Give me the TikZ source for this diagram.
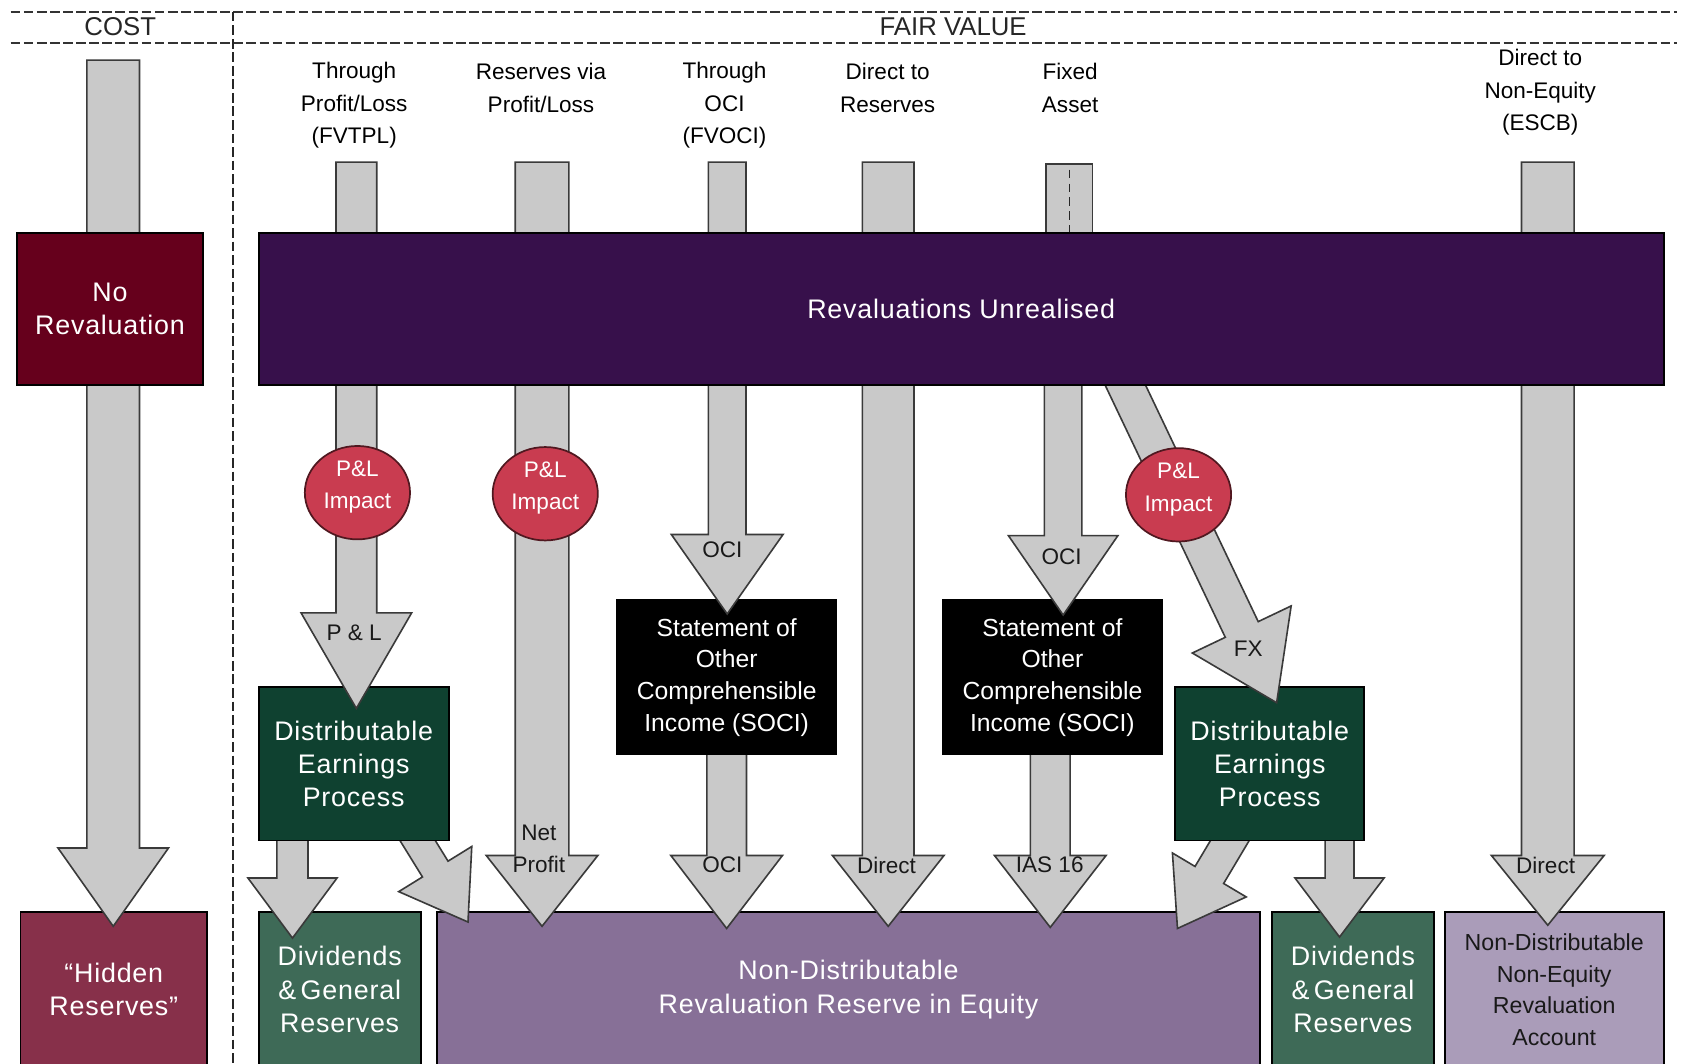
\documentclass[tikz,border=0pt]{standalone}
\usepackage{fontspec}
\setmainfont{Liberation Sans}
\newfontfamily\bxfont[LetterSpace=3]{Liberation Sans}
\usetikzlibrary{calc,shapes.geometric}
\pgfdeclarelayer{back}
\pgfdeclarelayer{arra}
\pgfdeclarelayer{arrb}
\pgfdeclarelayer{upper}
\pgfdeclarelayer{circl}
\pgfsetlayers{back,arra,main,arrb,upper,circl}
\definecolor{norevc}{HTML}{66001C}
\definecolor{hiddenc}{HTML}{87304A}
\definecolor{revuc}{HTML}{37104B}
\definecolor{depc}{HTML}{0F4130}
\definecolor{divc}{HTML}{3E6A57}
\definecolor{purpc}{HTML}{877097}
\definecolor{ndnec}{HTML}{AA9CB9}
\definecolor{circc}{HTML}{C93C50}
\definecolor{arrgray}{HTML}{C9C9C9}
\definecolor{arrline}{HTML}{3A3A3A}
\tikzset{
 blk/.style={fill=arrgray, draw=arrline, line width=0.75pt, line join=miter, miter limit=10},
 bx/.style={draw=black, line width=0.8pt, inner sep=0pt, outer sep=0pt, align=center, anchor=north west, text=white},
 bigtxt/.style={font=\bxfont\fontsize{12.5}{15.5}\selectfont},
 socitxt/.style={font=\fontsize{11.5}{14.8}\selectfont},
 ndtxt/.style={font=\fontsize{10.8}{14.7}\selectfont},
 toplbl/.style={align=center, font=\fontsize{10.5}{15}\selectfont, text=black, inner sep=0pt},
 arrlbl/.style={align=center, font=\fontsize{10.5}{15}\selectfont, text=black!90, inner sep=0pt},
 hdrtxt/.style={font=\fontsize{12}{14}\selectfont, text=black!85, inner sep=0pt},
 hdash/.style={draw=black!80, line width=0.75pt, dash pattern=on 4.5pt off 1.6pt},
 vdash/.style={draw=black!85, line width=0.75pt, dash pattern=on 4.5pt off 1.8pt},
 circn/.style={ellipse, draw=black!60!circc, line width=0.8pt, fill=circc, minimum width=49pt, minimum height=43.5pt, inner sep=0pt},
 circtxt/.style={align=center, text=white, font=\fontsize{10.5}{15}\selectfont, inner sep=0pt},
}
% #1 style, #2 start, #3 tip, #4 shaft half width, #5 head half width, #6 head length
\newcommand\blockarrow[6][]{%
  \draw[blk,#1] let \p1=(#2), \p2=(#3), \n1={atan2((\y2)-(\y1),(\x2)-(\x1))}, \p3=($(\p2)+(\n1+180:#6)$) in
  ($(\p1)+(\n1+90:#4)$) -- ($(\p3)+(\n1+90:#4)$) -- ($(\p3)+(\n1+90:#5)$) -- (\p2) --
  ($(\p3)+(\n1-90:#5)$) -- ($(\p3)+(\n1-90:#4)$) -- ($(\p1)+(\n1-90:#4)$) -- cycle;}
\begin{document}
\begin{tikzpicture}[x=0.5pt,y=0.5pt]
\useasboundingbox (0,0) rectangle (1568,-991);
\clip (0,0) rectangle (1568,-991);

% bottom boxes
\begin{pgfonlayer}{back}
\fill[white] (0,0) rectangle (1568,-991);
\node[bx,bigtxt,fill=hiddenc,minimum width=87pt,minimum height=72pt] (hidden) at (19,-850) {“Hidden\\Reserves”};
\node[bx,bigtxt,fill=divc,minimum width=75.5pt,minimum height=72pt] (divA) at (241,-850) {Dividends\\\&\,General\\Reserves};
\node[bx,bigtxt,fill=purpc,minimum width=383.5pt,minimum height=72pt] (purple) at (407,-850) {Non-Distributable\\Revaluation Reserve in Equity};
\node[bx,bigtxt,fill=divc,minimum width=75.5pt,minimum height=72pt] (divB) at (1185,-850) {Dividends\\\&\,General\\Reserves};
\node[bx,ndtxt,fill=ndnec,minimum width=102pt,minimum height=72pt,text=black!90] (ndne) at (1346,-850) {Non-Distributable\\Non-Equity\\Revaluation\\Account};
\end{pgfonlayer}

% header
\draw[hdash] (10,-11) -- (1562,-11);
\draw[hdash] (10,-40) -- (1562,-40);
\draw[vdash] (217,-11) -- (217,-995);
\node[hdrtxt] (hcost) at (112,-25) {COST};
\node[hdrtxt] (hfv) at (888,-25) {FAIR VALUE};

% column labels
\node[toplbl] (l1) at (330,-98) {Through\\Profit/Loss\\(FVTPL)};
\node[toplbl] (l2) at (504,-82) {Reserves via\\Profit/Loss};
\node[toplbl] (l3) at (675,-98) {Through\\OCI\\(FVOCI)};
\node[toplbl] (l4) at (827,-82) {Direct to\\Reserves};
\node[toplbl] (l5) at (997,-82) {Fixed\\Asset};
\node[toplbl] (l6) at (1435,-86) {Direct to\\Non-Equity\\(ESCB)};

% middle boxes
\node[bx,socitxt,fill=black,minimum width=102pt,minimum height=72pt] (soci1) at (575,-559) {Statement of\\Other\\Comprehensible\\Income (SOCI)};
\node[bx,socitxt,fill=black,minimum width=102.5pt,minimum height=72pt] (soci2) at (878,-559) {Statement of\\Other\\Comprehensible\\Income (SOCI)};
\node[bx,bigtxt,fill=depc,minimum width=88.5pt,minimum height=71.5pt] (dep1) at (241,-640) {Distributable\\Earnings\\Process};
\node[bx,bigtxt,fill=depc,minimum width=88pt,minimum height=71.5pt] (dep2) at (1095,-640) {Distributable\\Earnings\\Process};

% upper boxes
\begin{pgfonlayer}{upper}
\node[bx,bigtxt,fill=revuc,minimum width=654.5pt,minimum height=71pt] (revu) at (241,-217) {Revaluations Unrealised};
\node[bx,bigtxt,fill=norevc,minimum width=86.5pt,minimum height=71pt] (norev) at (16,-217) {No\\Revaluation};
\end{pgfonlayer}

% start coordinates
\coordinate (costtop) at (105.5,-56);
\coordinate (fvtpltop) at (332,-151);
\coordinate (resvtop) at (505,-151);
\coordinate (ocitop) at (677.5,-151);
\coordinate (dirtop) at (827.5,-151);
\coordinate (escbtop) at (1442,-151);
\coordinate (fixtop) at (990.5,-340);
\coordinate (fxtop) at (1039,-339);

% arrows into the bottom boxes
\begin{pgfonlayer}{arra}
\blockarrow{costtop}{$(costtop |- hidden.north)+(0,-13)$}{24.5}{51.5}{73}
\blockarrow{resvtop}{$(resvtop |- purple.north)+(0,-13)$}{25}{52}{66}
\blockarrow{$(soci1.south)+(0,10)$}{$(soci1.south |- purple.north)+(0,-15)$}{18.5}{52}{68}
\blockarrow{dirtop}{$(dirtop |- purple.north)+(0,-13)$}{24}{52}{66}
\blockarrow{$(soci2.south)+(-2,10)$}{$(soci2.south |- purple.north)+(-2,-14)$}{18.5}{52}{67}
\blockarrow{escbtop}{$(escbtop |- ndne.north)+(0,-12)$}{24.5}{52.5}{65}
\blockarrow{$(dep1.south west)+(31.5,13)$}{$(divA.north west)+(31.5,-24)$}{14.5}{41.5}{56}
\blockarrow{$(dep1.south west)+(140,13)$}{$(purple.north west)+(29,-9)$}{14}{40}{58}
\blockarrow{$(dep2.south west)+(58.6,13)$}{$(purple.north east)+(-77,-15)$}{15.5}{40}{58}
\blockarrow{$(dep2.south west)+(153,13)$}{$(divB.north west)+(63,-23)$}{13.5}{41.5}{55}
\end{pgfonlayer}

% arrows into the middle boxes
\begin{pgfonlayer}{arrb}
\blockarrow{fvtpltop}{$(fvtpltop |- dep1.north)+(0,-20)$}{19}{51.5}{89}
\blockarrow{ocitop}{$(ocitop |- soci1.north)+(0,-13)$}{17.5}{52}{74}
\blockarrow{fixtop}{$(fixtop |- soci2.north)+(0,-14)$}{17.5}{51}{74}
\blockarrow{fxtop}{$(dep2.north west)+(94.4,-14.7)$}{17}{51}{75.6}
\node[blk,minimum width=21.5pt,minimum height=35pt,anchor=north west,inner sep=0pt] (fixstub) at (974,-152) {};
\draw[black!85,line width=0.7pt,dash pattern=on 4pt off 2.5pt] ([yshift=-3pt]fixstub.north) -- (fixstub.south);
\end{pgfonlayer}

% circles and arrow labels
\begin{pgfonlayer}{circl}
\node[circn] (pl1) at (333,-459) {};
\node[circtxt] (pl1t) at ([yshift=2.5pt]pl1.center) {P\&L\\Impact};
\node[circn] (pl2) at (508,-460) {};
\node[circtxt] (pl2t) at ([yshift=2.5pt]pl2.center) {P\&L\\Impact};
\node[circn] (pl3) at (1098,-461) {};
\node[circtxt] (pl3t) at ([yshift=2.5pt]pl3.center) {P\&L\\Impact};
\node[arrlbl] (tpl) at (330,-590) {P \& L};
\node[arrlbl] (toci1) at (673,-512) {OCI};
\node[arrlbl] (toci2) at (673,-806) {OCI};
\node[arrlbl] (toci3) at (989,-519) {OCI};
\node[arrlbl] (tdir1) at (826,-806) {Direct};
\node[arrlbl] (tias) at (978,-806) {IAS 16};
\node[arrlbl] (tdir2) at (1440,-806) {Direct};
\node[arrlbl] (tfx) at (1163,-604) {FX};
\node[arrlbl] (tnet) at (502,-791) {Net\\Profit};
\end{pgfonlayer}
\end{tikzpicture}
\end{document}
